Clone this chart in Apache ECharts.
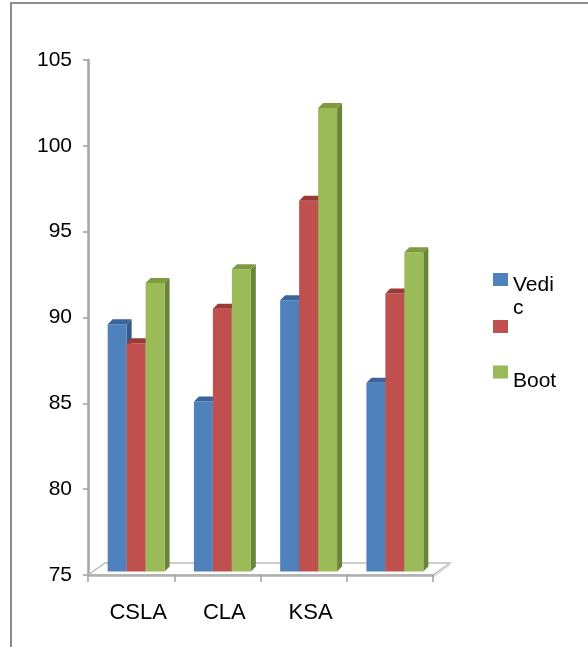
<!DOCTYPE html>
<html>
<head>
<meta charset="utf-8">
<script src="https://cdn.jsdelivr.net/npm/echarts@6/dist/echarts.min.js"></script>
<style>
  html, body { margin: 0; padding: 0; background: #fff; }
  #chart { width: 588px; height: 647px; }
</style>
</head>
<body>
<div id="chart"></div>
<script>
// Chart data
const categories = ['CSLA', 'CLA', 'KSA', ''];
const seriesNames = ['Vedic', 'Series 2', 'Boot'];
const vedic = [89.4, 84.9, 90.8, 86.0];
const series2 = [88.3, 90.3, 96.6, 91.2];
const boot = [91.8, 92.6, 102.0, 93.6];
const yMin = 75, yMax = 105, yStep = 5;

// Face colours for the pseudo-3D columns: front, top, side
const palettes = [
  { front: '#4f81bd', top: '#3b659a', side: '#36598a' },
  { front: '#c0504d', top: '#9a3a37', side: '#8a3431' },
  { front: '#9bbb59', top: '#7d9c42', side: '#6a853a' }
];

// Depth offsets of the column prisms and of the floor slab
const DX = 5, DY = 5;             // column depth
const SHIFT_X = 5, SHIFT_Y = 3.5; // columns sit slightly behind the front edge
const FLOOR_DX = 17, FLOOR_DY = 12;

function columnRenderer(k) {
  const pal = palettes[k];
  return function (params, api) {
    const cat = api.value(0);
    const val = api.value(1);
    const top = api.coord([cat, val]);
    const base = api.coord([cat, yMin]);
    const band = api.size([1, 0])[0];
    const w = band * 0.22;
    const x0 = top[0] - 1.5 * w + k * w + SHIFT_X;
    const yTop = top[1] - SHIFT_Y;
    const yBot = base[1] - SHIFT_Y;
    return {
      type: 'group',
      children: [
        { type: 'polygon',
          shape: { points: [[x0 + w, yTop], [x0 + w + DX, yTop - DY], [x0 + w + DX, yBot - DY], [x0 + w, yBot]] },
          style: { fill: pal.side } },
        { type: 'rect',
          shape: { x: x0, y: yTop, width: w, height: yBot - yTop },
          style: { fill: pal.front } },
        { type: 'polygon',
          shape: { points: [[x0, yTop], [x0 + w, yTop], [x0 + w + DX, yTop - DY], [x0 + DX, yTop - DY]] },
          style: { fill: pal.top } }
      ]
    };
  };
}

function floorRenderer(params, api) {
  const cs = params.coordSys;
  const yb = cs.y + cs.height;
  const xl = cs.x, xr = cs.x + cs.width;
  return {
    type: 'group',
    children: [
      { type: 'polygon',
        shape: { points: [[xl, yb], [xr, yb], [xr + FLOOR_DX, yb - FLOOR_DY], [xl + FLOOR_DX, yb - FLOOR_DY]] },
        style: { fill: '#ffffff', stroke: '#bdbdbd', lineWidth: 1.5 } },
      { type: 'polyline',
        shape: { points: [[xr, yb + 2], [xr + FLOOR_DX, yb - FLOOR_DY + 2]] },
        style: { fill: null, stroke: '#d0d0d0', lineWidth: 1 } }
    ]
  };
}

const valueSets = [vedic, series2, boot];
const columnSeries = valueSets.map(function (vals, k) {
  return {
    type: 'custom',
    name: seriesNames[k],
    renderItem: columnRenderer(k),
    data: vals.map(function (v, i) { return [i, v]; }),
    encode: { x: 0, y: 1 },
    itemStyle: { color: palettes[k].front },
    z: 3
  };
});

// Legend text: a spacer line above the label sets how far the label sits below its swatch
const legendText = {
  color: '#000', fontSize: 21,
  rich: {
    s1: { fontSize: 21, lineHeight: 34 },
    s2: { fontSize: 21, lineHeight: 18 },
    t: { color: '#000', fontSize: 21, lineHeight: 23 }
  }
};

const chart = echarts.init(document.getElementById('chart'), null, { renderer: 'canvas' });

chart.setOption({
  animation: false,
  backgroundColor: '#ffffff',
  textStyle: { fontFamily: 'Liberation Sans, Arial, sans-serif' },
  grid: { left: 88, right: 155, top: 60, bottom: 72, containLabel: false },
  xAxis: {
    type: 'category',
    data: categories,
    boundaryGap: true,
    axisLine: { show: true, lineStyle: { color: '#b0b0b0', width: 2.5 } },
    axisTick: { show: true, length: 7, lineStyle: { color: '#a0a0a0', width: 1.5 } },
    axisLabel: { color: '#000', fontSize: 22, margin: 27, padding: [0, 0, 0, 14] },
    splitLine: { show: false },
    z: 5
  },
  yAxis: {
    type: 'value',
    min: yMin,
    max: yMax,
    interval: yStep,
    axisLine: { show: true, lineStyle: { color: '#a6a6a6', width: 2.5 } },
    axisTick: { show: true, length: 5, lineStyle: { color: '#a0a0a0', width: 1.5 } },
    axisLabel: { color: '#000', fontSize: 21, margin: 16 },
    splitLine: { show: false }
  },
  legend: [
    {
      data: ['Vedic'], orient: 'vertical', left: 493, top: 246, padding: 0,
      itemWidth: 15, itemHeight: 13, icon: 'rect',
      // the name does not fit the narrow legend column and wraps after "Vedi"
      formatter: function (name) { return '{s1| }\n{t|' + name.slice(0, 4) + '\n' + name.slice(4) + '}'; },
      textStyle: legendText
    },
    {
      data: ['Series 2'], orient: 'vertical', left: 493, top: 320, padding: 0,
      itemWidth: 15, itemHeight: 13, icon: 'rect',
      formatter: function () { return ''; },
      textStyle: { fontSize: 21 }
    },
    {
      data: ['Boot'], orient: 'vertical', left: 493, top: 350, padding: 0,
      itemWidth: 15, itemHeight: 13, icon: 'rect',
      formatter: function (name) { return '{s2| }\n{t|' + name + '}'; },
      textStyle: legendText
    }
  ],
  graphic: [
    { type: 'polyline', shape: { points: [[11, 647], [11, 3], [588, 3]] },
      style: { stroke: '#8c8c8c', lineWidth: 2, fill: null }, z: 10 }
  ],
  series: [
    { type: 'custom', name: 'floor', renderItem: floorRenderer, data: [[0, yMin]],
      encode: { x: 0, y: 1 }, silent: true, z: 1 }
  ].concat(columnSeries)
});
</script>
</body>
</html>
